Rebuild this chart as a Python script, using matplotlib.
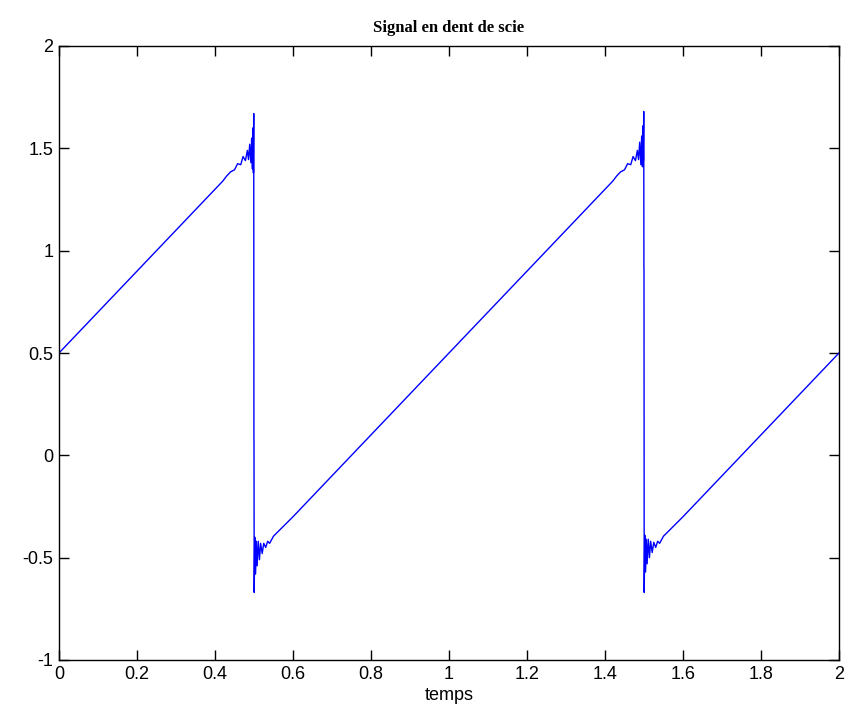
import numpy as np
import matplotlib
matplotlib.use('Agg')
import matplotlib.pyplot as plt

# signal: ramps with ringing near each jump
t_a = [0.000, 0.350, 0.420, 0.430, 0.440, 0.450, 0.458, 0.466, 0.472, 0.478,
       0.483, 0.486, 0.489, 0.492, 0.494, 0.496, 0.4975, 0.4985, 0.4993, 0.4998]
s_a = [0.500, 1.200, 1.340, 1.365, 1.385, 1.395, 1.425, 1.420, 1.460, 1.440,
       1.490, 1.445, 1.520, 1.430, 1.550, 1.400, 1.600, 1.380, 1.670, 0.080]

t_b = [0.5000, 0.5005, 0.5020, 0.5040, 0.5060, 0.5080, 0.5110, 0.5140, 0.5170,
       0.5210, 0.5250, 0.5300, 0.5350, 0.5400, 0.5500, 0.6000, 1.4000, 1.4200,
       1.4300, 1.4400, 1.4500, 1.4580, 1.4660, 1.4720, 1.4780, 1.4830, 1.4860,
       1.4890, 1.4920, 1.4940, 1.4960, 1.4975, 1.4985, 1.4993, 1.4998]
s_b = [0.060, -0.670, -0.400, -0.580, -0.420, -0.540, -0.420, -0.510, -0.430,
       -0.480, -0.430, -0.450, -0.420, -0.430, -0.395, -0.300, 1.300, 1.340,
       1.365, 1.385, 1.395, 1.425, 1.420, 1.460, 1.440, 1.490, 1.445, 1.530,
       1.420, 1.560, 1.410, 1.610, 1.440, 1.680, 0.920]

t_c = [1.5000, 1.5005, 1.5020, 1.5040, 1.5060, 1.5080, 1.5110, 1.5140, 1.5170,
       1.5210, 1.5250, 1.5300, 1.5350, 1.5400, 1.5500, 1.6000, 2.0000]
s_c = [0.900, -0.670, -0.390, -0.570, -0.410, -0.530, -0.410, -0.500, -0.420,
       -0.475, -0.425, -0.450, -0.420, -0.430, -0.395, -0.300, 0.500]

t = np.concatenate([t_a, t_b, t_c])
s = np.concatenate([s_a, s_b, s_c])

xticks = np.arange(0, 2.01, 0.2)
xlabels = ['0', '0.2', '0.4', '0.6', '0.8', '1', '1.2', '1.4', '1.6', '1.8', '2']
yticks = [-1, -0.5, 0, 0.5, 1, 1.5, 2]
ylabels = ['-1', '-0.5', '0', '0.5', '1', '1.5', '2']

fig = plt.figure(figsize=(8.48, 7.26), dpi=100)
ax = fig.add_axes([59/848, 1-660/726, (839-59)/848, (660-46)/726])
ax.plot(t, s, color='#0000ff', linewidth=1.0)
ax.set_xlim(0, 2)
ax.set_ylim(-1, 2)
ax.set_xticks(xticks)
ax.set_xticklabels(xlabels, fontsize=13, family='Liberation Sans')
ax.set_yticks(yticks)
ax.set_yticklabels(ylabels, fontsize=13, family='Liberation Sans')
ax.tick_params(direction='in', length=7, width=1, top=True, right=True, pad=4)
for sp in ax.spines.values():
    sp.set_linewidth(1)
ax.set_xlabel('temps', fontsize=13, family='Liberation Sans', labelpad=3)
ax.set_title('Signal en dent de scie', fontsize=12, fontweight='bold',
             family='Liberation Serif', pad=10)
fig.savefig('out.png', dpi=100)
